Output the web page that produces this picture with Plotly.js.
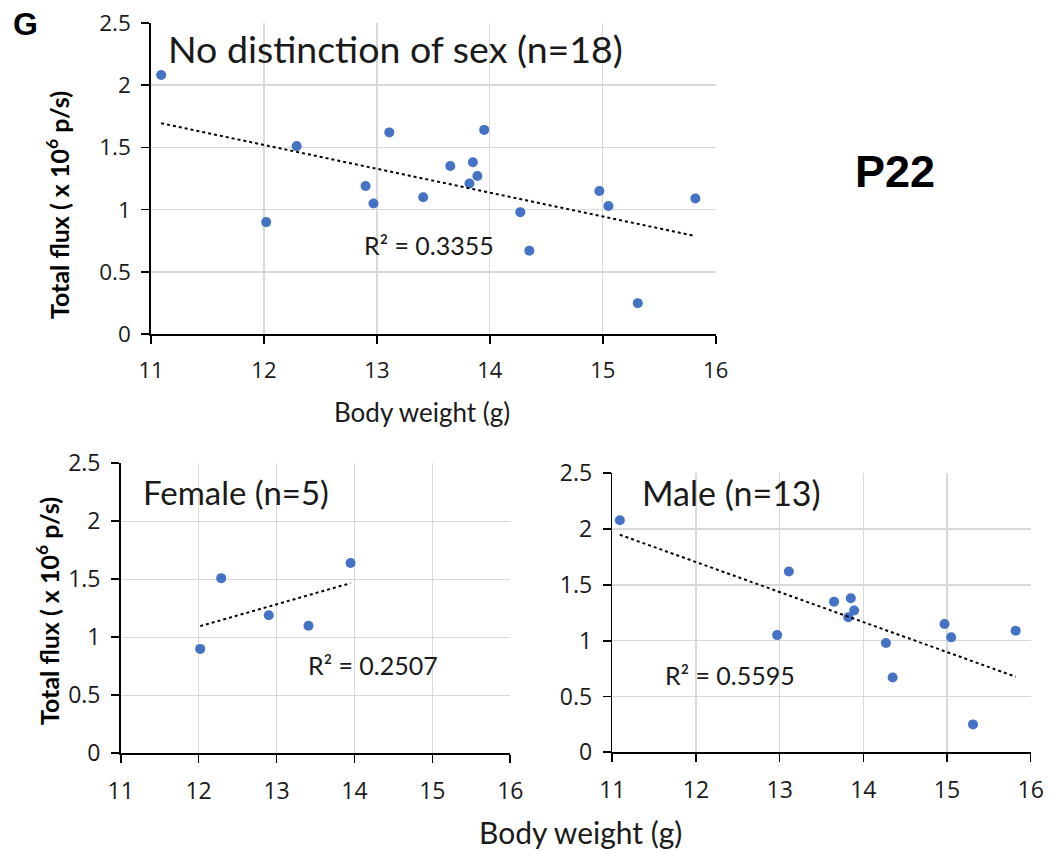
<!DOCTYPE html>
<html>
<head>
<meta charset="utf-8">
<script src="https://cdn.plot.ly/plotly-3.0.1.min.js"></script>
<style>html,body{margin:0;padding:0;background:#fff;}#chart{width:1050px;height:850px;}</style>
</head>
<body>
<div id="chart"></div>
<script>
// Data
const femaleWeight = [12.02, 12.29, 12.90, 13.41, 13.95];
const femaleFlux   = [0.90, 1.51, 1.19, 1.10, 1.64];
const maleWeight = [11.09, 12.97, 13.11, 13.65, 13.82, 13.85, 13.89, 14.27, 14.35, 14.97, 15.05, 15.31, 15.82];
const maleFlux   = [2.08, 1.05, 1.62, 1.35, 1.21, 1.38, 1.27, 0.98, 0.67, 1.15, 1.03, 0.25, 1.09];
const allWeight = femaleWeight.concat(maleWeight);
const allFlux = femaleFlux.concat(maleFlux);
const panelTitles = ["No distinction of sex (n=18)", "Female (n=5)", "Male (n=13)"];
const r2Labels = ["R² = 0.3355", "R² = 0.2507", "R² = 0.5595"];
const xTicks = [11, 12, 13, 14, 15, 16];
const yTicks = [0, 0.5, 1, 1.5, 2, 2.5];

function fit(xs, ys) {
  const n = xs.length;
  const mx = xs.reduce((a,b)=>a+b,0)/n, my = ys.reduce((a,b)=>a+b,0)/n;
  let sxy=0, sxx=0;
  for (let i=0;i<n;i++){ sxy+=(xs[i]-mx)*(ys[i]-my); sxx+=(xs[i]-mx)**2; }
  const b = sxy/sxx, a = my - b*mx;
  const x0 = Math.min(...xs), x1 = Math.max(...xs);
  return {x:[x0,x1], y:[a+b*x0, a+b*x1]};
}

const W = 1050, H = 850;
const px = v => v / W;
const py = v => 1 - v / H;

const blue = '#4472C4';
const FONT = 'Lato, "Open Sans", sans-serif';
const TICKFONT = '"Open Sans", Lato, sans-serif';
const panels = [
  {xs: allWeight, ys: allFlux, xa: 'x', ya: 'y'},
  {xs: femaleWeight, ys: femaleFlux, xa: 'x2', ya: 'y2'},
  {xs: maleWeight, ys: maleFlux, xa: 'x3', ya: 'y3'}
];
const traces = [];
panels.forEach(p => {
  traces.push({x: p.xs, y: p.ys, xaxis: p.xa, yaxis: p.ya, type: 'scatter', mode: 'markers',
    marker: {color: blue, size: 10}, showlegend: false, hoverinfo: 'skip'});
  const f = fit(p.xs, p.ys);
  traces.push({x: f.x, y: f.y, xaxis: p.xa, yaxis: p.ya, type: 'scatter', mode: 'lines',
    line: {color: '#000', width: 2, dash: 'dot'}, showlegend: false, hoverinfo: 'skip'});
});

function xAxis(domain, anchor, fs, standoff) {
  return {domain: domain, anchor: anchor, range: [11, 16], tickvals: xTicks, ticktext: xTicks.map(String),
    showgrid: true, gridcolor: '#d9d9d9', gridwidth: 1.3, zeroline: false,
    showline: true, linecolor: '#000', linewidth: 1.6, ticks: 'outside', ticklen: 8, tickwidth: 1.6, tickcolor: '#000',
    ticklabelstandoff: standoff, tickfont: {family: TICKFONT, size: fs, color: '#1a1a1a'}, fixedrange: true};
}
function yAxis(domain, anchor, fs) {
  return {domain: domain, anchor: anchor, range: [0, 2.5], tickvals: yTicks, ticktext: yTicks.map(String),
    showgrid: true, gridcolor: '#d9d9d9', gridwidth: 1.3, zeroline: false,
    showline: true, linecolor: '#000', linewidth: 1.6, ticks: 'outside', ticklen: 8, tickwidth: 1.6, tickcolor: '#000',
    ticklabelstandoff: 6, tickfont: {family: TICKFONT, size: fs, color: '#1a1a1a'}, fixedrange: true};
}

const ann = [];
function addText(text, x, y, size, opts) {
  ann.push(Object.assign({text: text, x: px(x), y: py(y), xref: 'paper', yref: 'paper', showarrow: false,
    xanchor: 'center', yanchor: 'middle', font: {family: FONT, size: size, color: '#1a1a1a'}}, opts || {}));
}
const boldFont = s => ({family: FONT, size: s, color: '#000', weight: 'bold'});
addText(panelTitles[0], 166, 48, 37.5, {xanchor: 'left'});
addText(panelTitles[1], 141, 492, 33, {xanchor: 'left'});
addText(panelTitles[2], 640, 492, 34, {xanchor: 'left'});
addText(r2Labels[0], 362, 245, 25, {xanchor: 'left'});
addText(r2Labels[1], 306, 665, 25, {xanchor: 'left'});
addText(r2Labels[2], 663, 675, 25, {xanchor: 'left'});
addText('Total flux ( x 10<sup>6</sup> p/s)', 57, 205, 25, {textangle: -90, font: boldFont(25)});
addText('Total flux ( x 10<sup>6</sup> p/s)', 47, 611, 25, {textangle: -90, font: boldFont(25)});
addText('Body weight (g)', 422, 412, 26);
addText('Body weight (g)', 580, 832, 30);
addText('G', 25, 24, 32, {font: {family: '"Liberation Sans", Arial, sans-serif', size: 32, color: '#000', weight: 'bold'}});
addText('P22', 895, 171, 45, {font: {family: '"Liberation Sans", Arial, sans-serif', size: 45, color: '#000', weight: 'bold'}});

const layout = {
  width: W, height: H, margin: {l: 0, r: 0, t: 0, b: 0},
  paper_bgcolor: '#fff', plot_bgcolor: '#fff', showlegend: false,
  xaxis: xAxis([px(151), px(715.7)], 'y', 22, 8),
  yaxis: yAxis([py(334.3), py(22.7)], 'x', 22.5),
  xaxis2: xAxis([px(120.7), px(510.3)], 'y2', 23, 8),
  yaxis2: yAxis([py(753.3), py(463.3)], 'x2', 23),
  xaxis3: xAxis([px(612.3), px(1030.7)], 'y3', 23, 8),
  yaxis3: yAxis([py(752.3), py(473.3)], 'x3', 23),
  annotations: ann
};
Plotly.newPlot('chart', traces, layout, {staticPlot: true, displayModeBar: false});
</script>
</body>
</html>
